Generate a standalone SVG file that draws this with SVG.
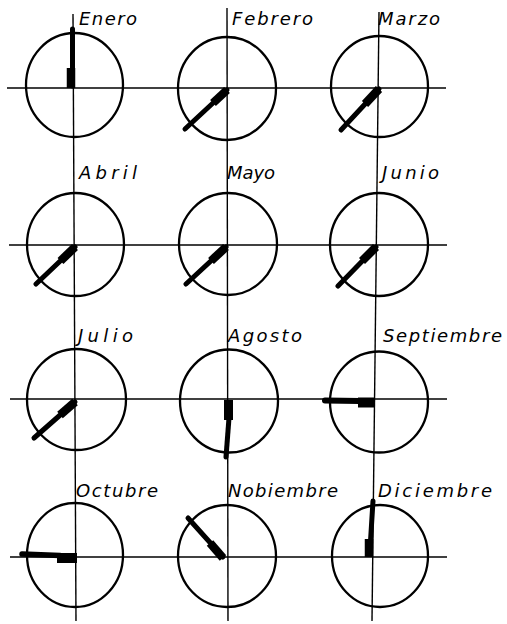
<svg xmlns="http://www.w3.org/2000/svg" width="507" height="624" viewBox="0 0 507 624">
<style>
.axis{stroke:#000;stroke-width:1.4;fill:none}
.dial{fill:none;stroke:#000;stroke-width:2.3}
.hand{stroke:#000;stroke-width:5;stroke-linecap:round;fill:none}
.grip{stroke:#000;stroke-width:8.5;stroke-linecap:butt;fill:none}
.lbl{font-family:"DejaVu Sans","Liberation Sans",sans-serif;font-style:italic;font-size:18px;fill:#000}
</style>
<rect width="507" height="624" fill="#fff"/>
<g id="connectors">
<line class="axis" x1="73" y1="14" x2="76" y2="621"/>
<line class="axis" x1="227" y1="8" x2="228" y2="621"/>
<line class="axis" x1="379" y1="12" x2="372" y2="621"/>
<line class="axis" x1="7" y1="88" x2="446" y2="88"/>
<line class="axis" x1="9" y1="245" x2="447" y2="245"/>
<line class="axis" x1="10" y1="399" x2="447" y2="399"/>
<line class="axis" x1="10" y1="557" x2="447" y2="557"/>
</g>
<g id="enero">
<ellipse class="dial" cx="74.5" cy="85" rx="48.5" ry="52"/>
<line class="hand" x1="72.5" y1="29" x2="72.5" y2="86"/>
<line class="grip" x1="71" y1="68" x2="71" y2="88"/>
<text class="lbl" x="79" y="25" textLength="58" lengthAdjust="spacing">Enero</text>
</g>
<g id="febrero">
<ellipse class="dial" cx="227" cy="88.5" rx="49" ry="51.5"/>
<line class="hand" x1="185" y1="129" x2="227" y2="90"/>
<line class="grip" x1="227" y1="90" x2="213" y2="103"/>
<text class="lbl" x="232" y="25" textLength="81" lengthAdjust="spacing">Febrero</text>
</g>
<g id="marzo">
<ellipse class="dial" cx="379.5" cy="86.5" rx="48.5" ry="50.5"/>
<line class="hand" x1="341" y1="130" x2="379" y2="89"/>
<line class="grip" x1="379" y1="89" x2="365" y2="104"/>
<text class="lbl" x="378" y="25" textLength="62" lengthAdjust="spacing">Marzo</text>
</g>
<g id="abril">
<ellipse class="dial" cx="75.5" cy="244.5" rx="48.5" ry="51.5"/>
<line class="hand" x1="36" y1="284" x2="75" y2="247"/>
<line class="grip" x1="75" y1="247" x2="60.5" y2="261"/>
<text class="lbl" x="79" y="179" textLength="58" lengthAdjust="spacing">Abril</text>
</g>
<g id="mayo">
<ellipse class="dial" cx="228" cy="244" rx="49" ry="51"/>
<line class="hand" x1="186" y1="284" x2="226" y2="247"/>
<line class="grip" x1="226" y1="247" x2="211" y2="261"/>
<text class="lbl" x="227" y="179" textLength="48" lengthAdjust="spacing">Mayo</text>
</g>
<g id="junio">
<ellipse class="dial" cx="379" cy="244.5" rx="49" ry="51.5"/>
<line class="hand" x1="338" y1="286" x2="376" y2="247"/>
<line class="grip" x1="376" y1="247" x2="362" y2="261"/>
<text class="lbl" x="382" y="179" textLength="57" lengthAdjust="spacing">Junio</text>
</g>
<g id="julio">
<ellipse class="dial" cx="76.5" cy="399.5" rx="49.5" ry="50.5"/>
<line class="hand" x1="34" y1="438" x2="75" y2="402"/>
<line class="grip" x1="75" y1="402" x2="60" y2="415"/>
<text class="lbl" x="78" y="342" textLength="55" lengthAdjust="spacing">Julio</text>
</g>
<g id="agosto">
<ellipse class="dial" cx="229" cy="401" rx="49" ry="51.5"/>
<line class="hand" x1="229" y1="418" x2="226" y2="457"/>
<line class="grip" x1="228.5" y1="400" x2="228.5" y2="420" style="stroke-width:9"/>
<text class="lbl" x="228" y="342" textLength="74" lengthAdjust="spacing">Agosto</text>
</g>
<g id="septiembre">
<ellipse class="dial" cx="379" cy="402" rx="49" ry="50.5"/>
<line class="hand" x1="325" y1="400.5" x2="360" y2="401" style="stroke-width:6"/>
<line class="grip" x1="358" y1="402.5" x2="375" y2="402.5" style="stroke-width:10"/>
<text class="lbl" x="383" y="342" textLength="119" lengthAdjust="spacing">Septiembre</text>
</g>
<g id="octubre">
<ellipse class="dial" cx="75" cy="555" rx="48" ry="52"/>
<line class="hand" x1="22" y1="554" x2="60" y2="555.5" style="stroke-width:5.5"/>
<line class="grip" x1="57" y1="558" x2="77" y2="558" style="stroke-width:10"/>
<text class="lbl" x="76" y="497" textLength="82" lengthAdjust="spacing">Octubre</text>
</g>
<g id="nobiembre">
<ellipse class="dial" cx="227" cy="556" rx="49" ry="51"/>
<line class="hand" x1="188" y1="518" x2="223" y2="557"/>
<line class="grip" x1="223" y1="558" x2="210" y2="543"/>
<text class="lbl" x="228" y="497" textLength="110" lengthAdjust="spacing">Nobiembre</text>
</g>
<g id="diciembre">
<ellipse class="dial" cx="380" cy="556" rx="48" ry="51"/>
<line class="hand" x1="373" y1="501" x2="370.5" y2="541"/>
<line class="grip" x1="369" y1="539" x2="369" y2="557"/>
<text class="lbl" x="378" y="497" textLength="114" lengthAdjust="spacing">Diciembre</text>
</g>
</svg>
